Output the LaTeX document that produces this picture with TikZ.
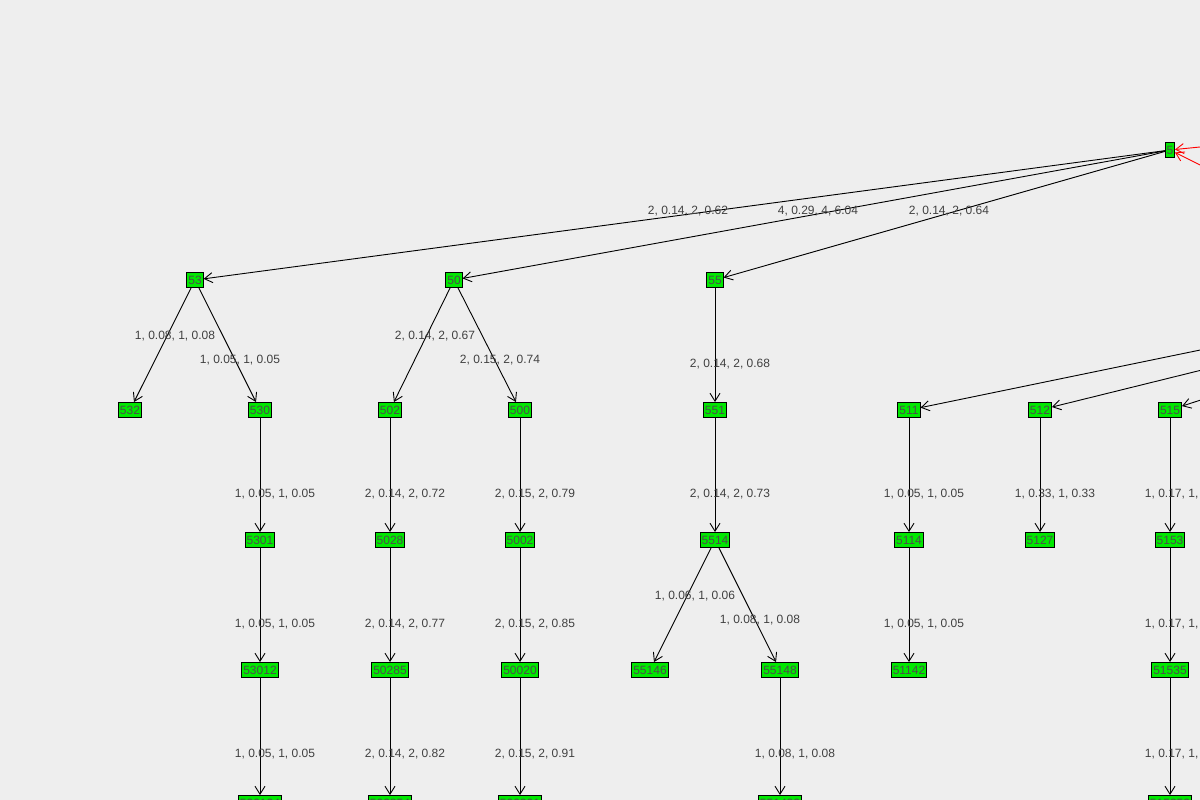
\documentclass[tikz,border=0pt]{standalone}
\usepackage{fontspec}
\setmainfont{Liberation Sans}
\usetikzlibrary{arrows.meta}
\definecolor{bg}{RGB}{238,238,238}
\definecolor{ng}{RGB}{0,232,0}
\begin{document}
\begin{tikzpicture}[x=1pt,y=-1pt,
  nd/.style={draw=black,line width=0.9pt,fill=ng,inner sep=1.5pt,minimum height=15pt,font=\fontsize{12}{14}\selectfont,text=black!70},
  ed/.style={draw=black,line width=0.9pt,-{Straight Barb[length=8pt,width=10pt]}},
  redge/.style={draw=red,line width=0.9pt,-{Straight Barb[length=8pt,width=10pt]}},
  lb/.style={font=\fontsize{12}{14}\selectfont,text=black!75}]
\fill[bg] (0,0) rectangle (1200,800);
\useasboundingbox (0,0) rectangle (1200,800);
\clip (0,0) rectangle (1200,800);
\node[nd,minimum width=9pt,inner sep=0.5pt] (n5) at (1170,150) {5};
\foreach \n/\x in {53/195,50/454,55/715}{\node[nd] (n\n) at (\x,280) {\n};}
\foreach \n/\x in {532/130,530/260,502/390,500/520,551/715,511/909,512/1040,515/1170}{\node[nd] (n\n) at (\x,410) {\n};}
\foreach \n/\x in {5301/260,5028/390,5002/520,5514/715,5114/909,5127/1040,5153/1170}{\node[nd] (n\n) at (\x,540) {\n};}
\foreach \n/\x in {53012/260,50285/390,50020/520,55146/650,55148/780,51142/909,51535/1170}{\node[nd] (n\n) at (\x,670) {\n};}
\foreach \n/\x in {530124/260,502854/390,500201/520,551482/780,515353/1170}{\node[nd] (n\n) at (\x,803) {\n};}
\coordinate (r1) at (1210,146); \coordinate (r2) at (1210,170);
\coordinate (a511) at (1210,348); \coordinate (a512) at (1210,368); \coordinate (a515) at (1210,397);
\draw[redge] (r1) -- (n5); \draw[redge] (r2) -- (n5);
\draw[ed] (a511) -- (n511); \draw[ed] (a512) -- (n512); \draw[ed] (a515) -- (n515);
\foreach \a/\b in {5/53,5/50,5/55,53/532,53/530,50/502,50/500,55/551,530/5301,502/5028,500/5002,551/5514,511/5114,512/5127,515/5153,5301/53012,5028/50285,5002/50020,5514/55146,5514/55148,5114/51142,5153/51535,53012/530124,50285/502854,50020/500201,55148/551482,51535/515353}{\draw[ed] (n\a) -- (n\b);}
\foreach \t/\x/\y in {{2, 0.14, 2, 0.62}/688/211,{4, 0.29, 4, 6.04}/818/211,{2, 0.14, 2, 0.64}/949/211,
{1, 0.08, 1, 0.08}/175/336,{1, 0.05, 1, 0.05}/240/360,{2, 0.14, 2, 0.67}/435/336,{2, 0.15, 2, 0.74}/500/360,{2, 0.14, 2, 0.68}/730/364,
{1, 0.05, 1, 0.05}/275/494,{2, 0.14, 2, 0.72}/405/494,{2, 0.15, 2, 0.79}/535/494,{2, 0.14, 2, 0.73}/730/494,{1, 0.05, 1, 0.05}/924/494,{1, 0.33, 1, 0.33}/1055/494,{1, 0.17, 1, 0.17}/1185/494,
{1, 0.05, 1, 0.05}/275/624,{2, 0.14, 2, 0.77}/405/624,{2, 0.15, 2, 0.85}/535/624,{1, 0.06, 1, 0.06}/695/596,{1, 0.08, 1, 0.08}/760/620,{1, 0.05, 1, 0.05}/924/624,{1, 0.17, 1, 0.17}/1185/624,
{1, 0.05, 1, 0.05}/275/754,{2, 0.14, 2, 0.82}/405/754,{2, 0.15, 2, 0.91}/535/754,{1, 0.08, 1, 0.08}/795/754,{1, 0.17, 1, 0.17}/1185/754}
{\node[lb] at (\x,\y) {\t};}
\end{tikzpicture}
\end{document}
